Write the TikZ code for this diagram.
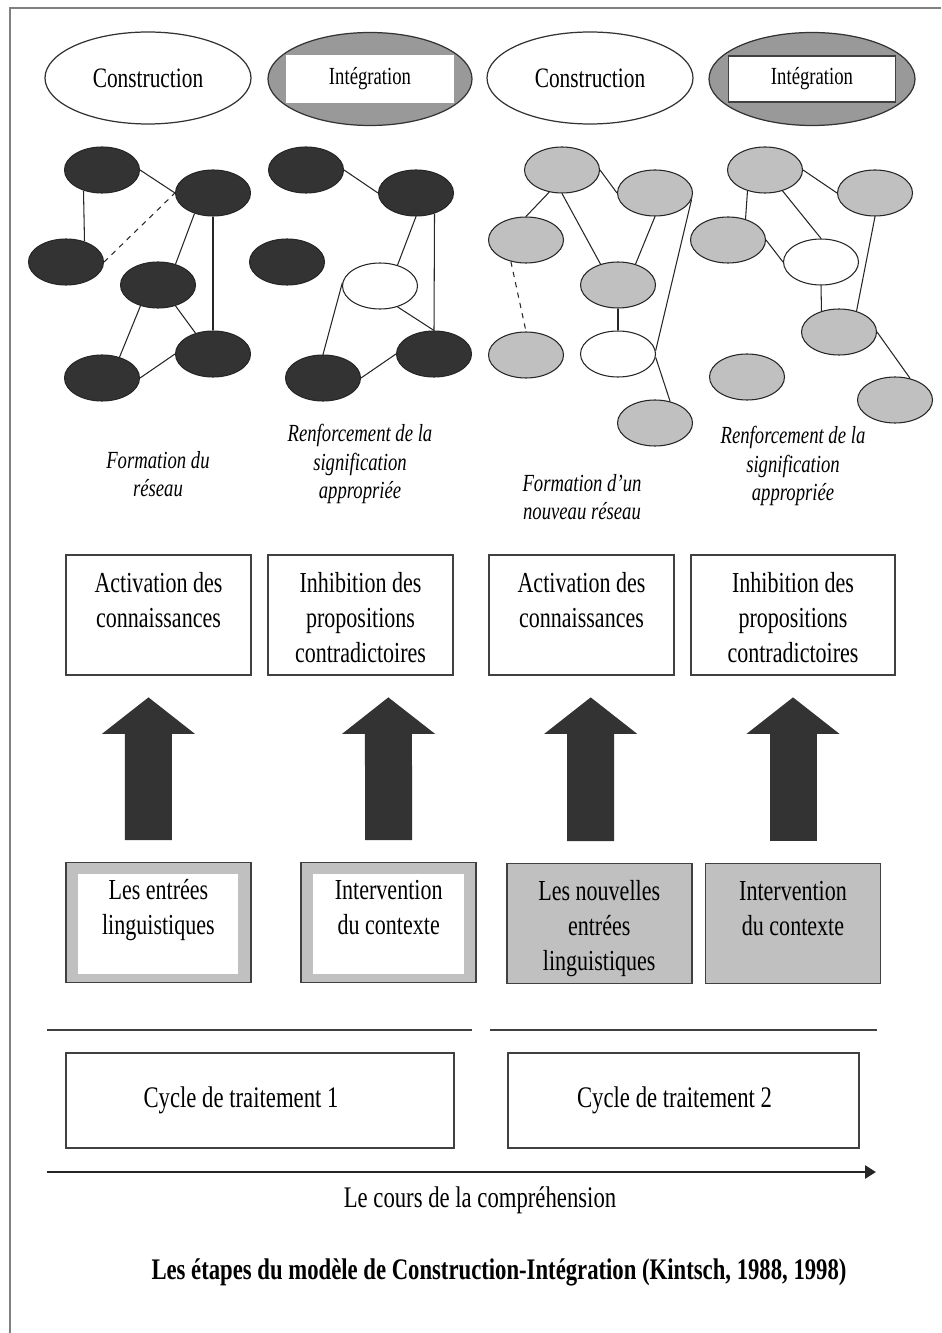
\documentclass[tikz,border=0pt]{standalone}
\usepackage{fontspec}
\setmainfont{Liberation Serif}[FakeStretch=0.76]
\usetikzlibrary{shapes.geometric,arrows.meta}
\definecolor{nodedark}{RGB}{51,51,51}
\definecolor{nodegrey}{RGB}{192,192,192}
\definecolor{phasegrey}{RGB}{153,153,153}
\definecolor{boxgrey}{RGB}{192,192,192}
\definecolor{arrowdark}{RGB}{51,51,51}
\definecolor{framegrey}{RGB}{128,128,128}

\begin{document}
\begin{tikzpicture}[
    x=0.2mm, y=-0.2mm,
    phase/.style={
        ellipse,
        draw=black!80,
        line width=0.7pt,
        fill=white,
        minimum width=4.12cm,
        minimum height=1.84cm,
        font=\fontsize{16}{19}\selectfont
    },
    integ/.style={
        phase,
        fill=phasegrey,
        font=\fontsize{14}{17}\selectfont,
        path picture={
            \filldraw[fill=white, draw=#1, line width=0.8pt]
            ([shift={(-1.67cm,-0.46cm)}]path picture bounding box.center) rectangle
            ([shift={(1.67cm,0.46cm)}]path picture bounding box.center);
        }
    },
    integ/.default=white,
    netnode/.style={
        ellipse,
        draw=black!85,
        line width=0.6pt,
        minimum width=1.5cm,
        minimum height=0.92cm,
        inner sep=0pt
    },
    darknode/.style={netnode, fill=nodedark},
    greynode/.style={netnode, fill=nodegrey},
    emptynode/.style={netnode, fill=white},
    link/.style={draw=black!85, line width=0.6pt},
    note/.style={
        align=center,
        font=\itshape\fontsize{14}{16}\selectfont
    },
    procbox/.style={
        draw=black!75,
        line width=1pt,
        fill=white,
        minimum height=2.4cm,
        inner xsep=0.1cm,
        inner ysep=0.25cm,
        font=\fontsize{16.5}{20}\selectfont,
        execute at begin node={\begin{minipage}[t][1.9cm][t]{3.3cm}\centering\strut},
        execute at end node={\end{minipage}}
    },
    inputbox/.style={procbox, fill=boxgrey},
    framedinput/.style={
        inputbox,
        path picture={
            \fill[white]
            ([shift={(0.24cm,-0.22cm)}]path picture bounding box.north west) rectangle
            ([shift={(-0.25cm,0.18cm)}]path picture bounding box.south east);
        }
    },
    bigarrow/.style={
        draw=arrowdark,
        line width=0.94cm,
        -{Triangle[width=1.86cm, length=0.73cm, line width=0pt]},
        shorten <=0.43cm,
        shorten >=0.43cm
    },
    cyclebox/.style={
        draw=black!75,
        line width=1pt,
        minimum height=1.9cm,
        font=\fontsize{17}{20}\selectfont
    },
    flow/.style={
        draw=black!85,
        line width=1.5pt,
        -{Triangle[width=0.26cm, length=0.22cm]}
    }
]

\useasboundingbox (0,0) rectangle (941,1333);

% frame of the figure
\draw[framegrey, line width=1pt] (10,1333) -- (10,8) -- (941,8);

% ============================================================
% PHASES
% ============================================================

\node[phase] (cons1) at (148,78) {Construction};
\node[integ=white, minimum width=4.08cm, minimum height=1.86cm] (integ1) at (370,79) {Intégration};
\node[phase] (cons2) at (590,78) {Construction};
\node[integ=black!75, minimum width=4.12cm, minimum height=1.86cm] (integ2) at (812,79) {Intégration};

% ============================================================
% NETWORK 1 — CONSTRUCTION
% ============================================================

\node[darknode] (ca1) at (102,170) {};
\node[darknode] (ca2) at (213,193) {};
\node[darknode] (ca3) at (66,262) {};
\node[darknode] (ca4) at (158,285) {};
\node[darknode] (ca5) at (102,378) {};
\node[darknode] (ca6) at (213,354) {};

\draw[link] (ca1.east) -- (ca2.west);
\draw[link] (ca1.228) -- (ca3.48);
\draw[link, dashed] (ca3.east) -- (ca2.west);
\draw[link] (ca2.228) -- (ca4.50);
\draw[link] (ca2.south) -- (ca6.north);
\draw[link] (ca4.230) -- (ca5.50);
\draw[link] (ca4.310) -- (ca6.130);
\draw[link] (ca5.east) -- (ca6.west);

% ============================================================
% NETWORK 2 — INTEGRATION
% ============================================================

\node[darknode] (ia1) at (306,170) {};
\node[darknode] (ia2) at (416,193) {};
\node[darknode] (ia3) at (287,262) {};
\node[emptynode] (ia4) at (380,286) {};
\node[darknode] (ia5) at (323,378) {};
\node[darknode] (ia6) at (434,354) {};

\draw[link] (ia1.east) -- (ia2.west);
\draw[link] (ia2.south) -- (ia4.50);
\draw[link] (ia2.-48) -- (ia6.north);
\draw[link] (ia4.175) -- (ia5.north);
\draw[link] (ia4.-50) -- (ia6.north);
\draw[link] (ia5.east) -- (ia6.west);

% ============================================================
% NETWORK 3 — NEW CONSTRUCTION
% ============================================================

\node[greynode] (cb1) at (562,170) {};
\node[greynode] (cb2) at (655,193) {};
\node[greynode] (cb3) at (526,240) {};
\node[greynode] (cb4) at (618,285) {};
\node[greynode] (cb5) at (526,355) {};
\node[emptynode] (cb6) at (618,354) {};
\node[greynode] (cb7) at (655,423) {};

\draw[link] (cb1.east) -- (cb2.west);
\draw[link] (cb1.240) -- (cb3.north);
\draw[link] (cb1.south) -- (cb4.130);
\draw[link] (cb2.south) -- (cb4.50);
\draw[link] (cb2.-10) -- (cb6.5);
\draw[link] (cb6.-5) -- (cb7.55);
\draw[link, dashed] (cb3.235) -- (cb5.north);
\draw[link] (cb4.south) -- (cb6.north);

% ============================================================
% NETWORK 4 — NEW INTEGRATION
% ============================================================

\node[greynode] (ib1) at (765,170) {};
\node[greynode] (ib2) at (875,193) {};
\node[greynode] (ib3) at (728,240) {};
\node[emptynode] (ib4) at (821,262) {};
\node[greynode] (ib5) at (839,332) {};
\node[greynode] (ib6) at (747,377) {};
\node[greynode] (ib7) at (895,400) {};

\draw[link] (ib1.east) -- (ib2.west);
\draw[link] (ib1.230) -- (ib3.50);
\draw[link] (ib1.-50) -- (ib4.north);
\draw[link] (ib3.east) -- (ib4.west);
\draw[link] (ib4.south) -- (ib5.130);
\draw[link] (ib2.south) -- (ib5.50);
\draw[link] (ib5.east) -- (ib7.55);

% ============================================================
% NOTES UNDER THE NETWORKS
% ============================================================

\node[note] (note1) at (158,474) {Formation du\\réseau};
\node[note] (note2) at (360,464) {Renforcement de la\\signification\\appropriée};
\node[note] (note3) at (582,497) {Formation d'un\\nouveau réseau};
\node[note] (note4) at (793,466) {Renforcement de la\\signification\\appropriée};

% ============================================================
% PROCESSES AND INPUTS
% ============================================================

\node[procbox, minimum width=3.7cm] (act1) at (158.5,615) {Activation des\\connaissances};
\node[procbox, minimum width=3.7cm] (inh1) at (360.5,615) {Inhibition des\\propositions\\contradictoires};
\node[procbox, minimum width=3.7cm] (act2) at (581.5,615) {Activation des\\connaissances};
\node[procbox, minimum width=4.08cm] (inh2) at (793,615) {Inhibition des\\propositions\\contradictoires};

\node[framedinput, minimum width=3.7cm] (in1) at (158.4,922.5) {Les entrées\\linguistiques};
\node[framedinput, minimum width=3.32cm] (in2) at (388.7,922.5) {Intervention\\du contexte};
\node[inputbox, minimum width=3.7cm] (in3) at (599.2,923.5) {Les nouvelles\\entrées\\linguistiques};
\node[inputbox, minimum width=3.32cm] (in4) at (793,923.5) {Intervention\\du contexte};

\draw[bigarrow] ([xshift=-0.2cm]in1.north) -- ([xshift=-0.2cm]act1.south);
\draw[bigarrow] (in2.north) -- ([xshift=0.556cm]inh1.south);
\draw[bigarrow] ([xshift=-0.17cm]in3.north) -- ([xshift=0.184cm]act2.south);
\draw[bigarrow] (in4.north) -- (inh2.south);

% ============================================================
% CYCLES
% ============================================================

\draw[black!75, line width=1.1pt] (47,1030) -- (472,1030);
\draw[black!75, line width=1.1pt] (490,1030) -- (877,1030);

\node[cyclebox, minimum width=7.76cm] (cyc1) at (260,1100.5) {Cycle de traitement 1\hspace*{0.76cm}};
\node[cyclebox, minimum width=7.02cm] (cyc2) at (683.5,1100.5) {Cycle de traitement 2\hspace*{0.36cm}};

\coordinate (flowstart) at (47,1172);
\coordinate (flowend) at (876,1172);
\draw[flow] (flowstart) -- (flowend);

\node[font=\fontsize{17}{20}\selectfont] (flowlabel) at (480,1200) {Le cours de la compréhension};

\node[font=\bfseries\fontsize{17}{20}\selectfont] (title) at (499,1272)
{Les étapes du modèle de Construction-Intégration (Kintsch, 1988, 1998)};

\end{tikzpicture}
\end{document}
